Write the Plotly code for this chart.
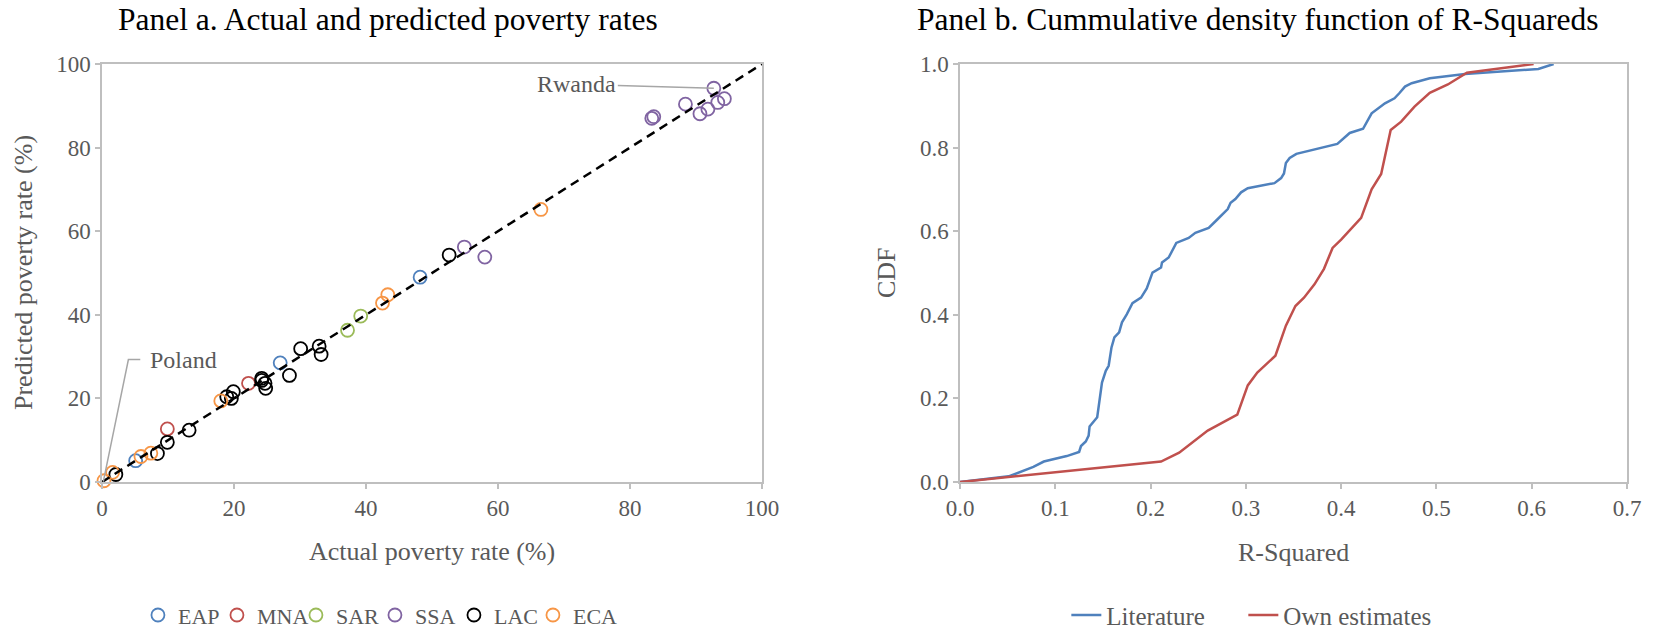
import plotly.graph_objects as go

# ---------------- Panel a data (actual %, predicted %) ----------------
regions = ["EAP", "MNA", "SAR", "SSA", "LAC", "ECA"]
region_colors = ["#4F81BD", "#C0504D", "#9BBB59", "#8064A2", "#000000", "#F79646"]

eap_actual = [5.1, 27.0, 48.2]
eap_pred = [5.1, 28.5, 49.0]

mna_actual = [9.9, 22.2]
mna_pred = [12.7, 23.6]

sar_actual = [37.2, 39.2]
sar_pred = [36.3, 39.7]

ssa_actual = [54.9, 58.0, 83.3, 83.6, 88.4, 90.6, 91.8, 92.7, 93.3, 94.3]
ssa_pred = [56.2, 53.8, 87.0, 87.4, 90.4, 88.1, 89.2, 94.2, 90.8, 91.7]

lac_actual = [2.1, 8.4, 9.9, 13.2, 18.9, 19.6, 19.9, 24.2, 24.2, 24.7, 24.8,
              28.4, 30.1, 32.9, 33.2, 52.6]
lac_pred = [1.8, 6.8, 9.5, 12.4, 20.4, 20.0, 21.6, 24.3, 24.8, 23.6, 22.4,
            25.5, 31.9, 32.5, 30.5, 54.3]

eca_actual = [0.3, 1.6, 5.9, 7.4, 18.0, 42.5, 43.3, 66.5]
eca_pred = [0.3, 2.3, 6.1, 6.9, 19.4, 42.8, 44.8, 65.2]

diag_x = [0, 100]
diag_y = [0, 100]

# label anchors (data coords)
rwanda_pt = (92.7, 94.2)
poland_pt = (0.2, 0.1)

# ---------------- Panel b data (CDF of R-squared) ----------------
lit_r2 = [0.0, 0.051, 0.077, 0.088, 0.112, 0.125, 0.127, 0.132, 0.135, 0.136,
          0.144, 0.146, 0.149, 0.153, 0.156, 0.159, 0.162, 0.167, 0.170, 0.175,
          0.181, 0.190, 0.196, 0.202, 0.211, 0.212, 0.219, 0.227, 0.240, 0.247,
          0.261, 0.270, 0.281, 0.284, 0.289, 0.295, 0.302, 0.330, 0.337, 0.340,
          0.342, 0.346, 0.353, 0.396, 0.409, 0.423, 0.432, 0.446, 0.456, 0.461,
          0.467, 0.474, 0.493, 0.530, 0.607, 0.623]
lit_cdf = [0.0, 0.0135, 0.036, 0.049, 0.062, 0.072, 0.086, 0.097, 0.111, 0.133,
           0.155, 0.191, 0.238, 0.266, 0.278, 0.322, 0.346, 0.358, 0.382, 0.401,
           0.428, 0.441, 0.463, 0.501, 0.513, 0.525, 0.537, 0.572, 0.584, 0.596,
           0.608, 0.628, 0.653, 0.668, 0.677, 0.693, 0.703, 0.715, 0.727, 0.738,
           0.763, 0.775, 0.785, 0.809, 0.835, 0.845, 0.882, 0.906, 0.918, 0.930,
           0.946, 0.954, 0.966, 0.976, 0.988, 1.0]

own_r2 = [0.0, 0.211, 0.230, 0.242, 0.260, 0.291, 0.302, 0.312, 0.331, 0.342,
          0.352, 0.361, 0.372, 0.382, 0.391, 0.400, 0.411, 0.421, 0.432, 0.442,
          0.452, 0.463, 0.477, 0.493, 0.512, 0.532, 0.602]
own_cdf = [0.0, 0.049, 0.070, 0.091, 0.123, 0.161, 0.231, 0.262, 0.302, 0.374,
           0.421, 0.441, 0.473, 0.510, 0.560, 0.580, 0.608, 0.632, 0.700, 0.737,
           0.842, 0.862, 0.898, 0.931, 0.951, 0.979, 1.0]

FONT = "Liberation Serif, Times New Roman, serif"
GRAY_TXT = "#595959"
AX_COL = "#BFBFBF"

fig = go.Figure()

series = [
    (eap_actual, eap_pred), (mna_actual, mna_pred), (sar_actual, sar_pred),
    (ssa_actual, ssa_pred), (lac_actual, lac_pred), (eca_actual, eca_pred),
]
for name, col, (xs, ys) in zip(regions, region_colors, series):
    fig.add_trace(go.Scatter(
        x=xs, y=ys, mode="markers", name=name,
        marker=dict(symbol="circle-open", size=13, color=col, line=dict(width=1.8, color=col)),
        cliponaxis=False, xaxis="x", yaxis="y", legend="legend",
    ))
# invisible spacer entry so the last legend label is not clipped
fig.add_trace(go.Scatter(
    x=[None], y=[None], mode="markers", name=" ",
    marker=dict(symbol="circle-open", size=1, color="rgba(0,0,0,0)"),
    xaxis="x", yaxis="y", legend="legend", hoverinfo="skip",
))

fig.add_trace(go.Scatter(
    x=diag_x, y=diag_y, mode="lines", showlegend=False,
    line=dict(color="black", width=2.5, dash="9px,6px"),
    xaxis="x", yaxis="y", hoverinfo="skip",
))

fig.add_trace(go.Scatter(
    x=lit_r2, y=lit_cdf, mode="lines", name="Literature",
    line=dict(color="#4F81BD", width=2.5), xaxis="x2", yaxis="y2", legend="legend2",
))
fig.add_trace(go.Scatter(
    x=own_r2, y=own_cdf, mode="lines", name="Own estimates",
    line=dict(color="#C0504D", width=2.5), xaxis="x2", yaxis="y2", legend="legend2",
))
fig.add_trace(go.Scatter(
    x=[None], y=[None], mode="lines", name=" ",
    line=dict(color="rgba(0,0,0,0)", width=0.1),
    xaxis="x2", yaxis="y2", legend="legend2", hoverinfo="skip",
))

ydom = [149 / 631, 567 / 631]
axis_common = dict(
    showline=True, linecolor=AX_COL, linewidth=1.5, mirror=True,
    ticks="outside", ticklen=5, tickcolor=AX_COL, tickwidth=1.5,
    showgrid=False, zeroline=False, automargin=False,
    tickfont=dict(family=FONT, size=23, color=GRAY_TXT),
)

fig.update_layout(
    width=1654, height=631,
    margin=dict(l=0, r=0, t=0, b=0, pad=0, autoexpand=False),
    paper_bgcolor="white", plot_bgcolor="white",
    font=dict(family=FONT, color=GRAY_TXT),
    xaxis=dict(domain=[102 / 1654, 762 / 1654], range=[0, 100], dtick=20, anchor="y", **axis_common),
    yaxis=dict(domain=ydom, range=[0, 100], dtick=20, anchor="x", **axis_common),
    xaxis2=dict(domain=[960 / 1654, 1627 / 1654], range=[0, 0.7], dtick=0.1, tickformat=".1f",
                anchor="y2", **axis_common),
    yaxis2=dict(domain=ydom, range=[0, 1.0], dtick=0.2, tickformat=".1f", anchor="x2", **axis_common),
    legend=dict(orientation="h", x=0.0834, xanchor="left", y=0.025, yanchor="middle",
                font=dict(family=FONT, size=22, color=GRAY_TXT),
                entrywidth=34, entrywidthmode="pixels", itemwidth=30, bgcolor="rgba(0,0,0,0)"),
    legend2=dict(orientation="h", x=0.6447, xanchor="left", y=0.025, yanchor="middle",
                 font=dict(family=FONT, size=25, color=GRAY_TXT),
                 entrywidth=132, entrywidthmode="pixels", itemwidth=30, bgcolor="rgba(0,0,0,0)"),
    showlegend=True,
)

annotations = [
    dict(text="Panel a. Actual and predicted poverty rates", xref="paper", yref="paper",
         x=388 / 1654, y=1 - 19 / 631, xanchor="center", yanchor="middle", showarrow=False,
         font=dict(family=FONT, size=31.5, color="black")),
    dict(text="Panel b. Cummulative density function of R-Squareds", xref="paper", yref="paper",
         x=1258 / 1654, y=1 - 19 / 631, xanchor="center", yanchor="middle", showarrow=False,
         font=dict(family=FONT, size=31.5, color="black")),
    dict(text="Actual poverty rate (%)", xref="paper", yref="paper",
         x=432 / 1654, y=1 - 551 / 631, xanchor="center", yanchor="middle", showarrow=False,
         font=dict(family=FONT, size=26, color=GRAY_TXT)),
    dict(text="R-Squared", xref="paper", yref="paper",
         x=1293 / 1654, y=1 - 552 / 631, xanchor="center", yanchor="middle", showarrow=False,
         font=dict(family=FONT, size=26, color=GRAY_TXT)),
    dict(text="Predicted poverty rate (%)", xref="paper", yref="paper", textangle=-90,
         x=23 / 1654, y=1 - 273 / 631, xanchor="center", yanchor="middle", showarrow=False,
         font=dict(family=FONT, size=26, color=GRAY_TXT)),
    dict(text="CDF", xref="paper", yref="paper", textangle=-90,
         x=886 / 1654, y=1 - 273 / 631, xanchor="center", yanchor="middle", showarrow=False,
         font=dict(family=FONT, size=26, color=GRAY_TXT)),
    dict(text="Rwanda", xref="x", yref="y", x=rwanda_pt[0], y=rwanda_pt[1],
         ax=-137, ay=-4, showarrow=True, arrowhead=0, arrowwidth=1.5, arrowcolor="#A6A6A6",
         standoff=0, font=dict(family=FONT, size=24, color=GRAY_TXT)),
    dict(text="Poland", xref="x", yref="y", x=7.0, y=29.3, xanchor="left", yanchor="middle",
         showarrow=False, font=dict(family=FONT, size=24, color=GRAY_TXT)),
]
fig.update_layout(annotations=annotations)

fig.add_shape(type="path", xref="x", yref="y",
              path=f"M {poland_pt[0]},{poland_pt[1]} L 4.0,29.3 L 5.8,29.3",
              line=dict(color="#A6A6A6", width=1.5))

fig.write_html("out.html")
